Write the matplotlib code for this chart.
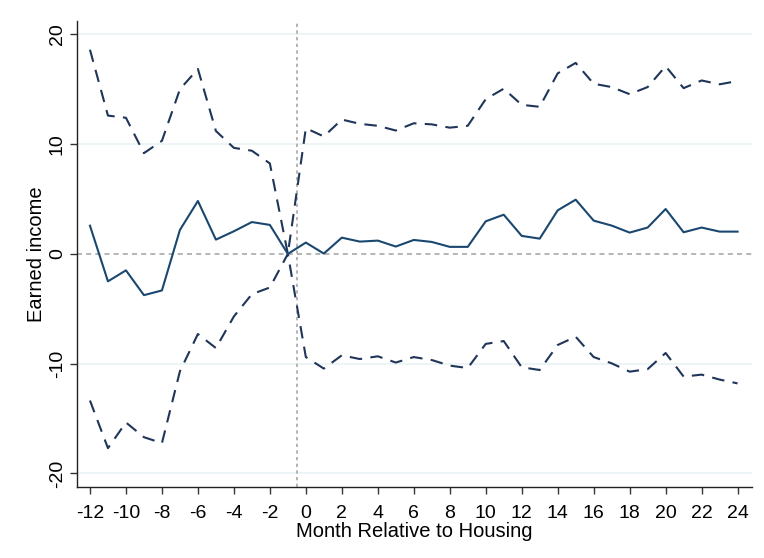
import matplotlib.pyplot as plt
import numpy as np

plt.rcParams['font.family'] = ['Liberation Sans', 'DejaVu Sans']
plt.rcParams['axes.unicode_minus'] = False

# months relative to housing
months = list(range(-12, 25))

# point estimate
est = [2.57, -2.5, -1.5, -3.76, -3.33, 2.18, 4.82, 1.3, 2.06, 2.9, 2.64, 0.0,
       1.03, 0.03, 1.48, 1.12, 1.21, 0.67, 1.27, 1.09, 0.64, 0.64, 2.97, 3.57,
       1.64, 1.39, 3.97, 4.94, 3.03, 2.58, 1.94, 2.4, 4.09, 1.97, 2.4, 2.03, 2.03]

# upper confidence bound
upper = [18.6, 12.6, 12.4, 9.18, 10.3, 15.0, 16.85, 11.2, 9.66, 9.4, 8.24, 0.0,
         11.45, 10.7, 12.24, 11.85, 11.67, 11.24, 11.9, 11.8, 11.5, 11.67, 14.1, 15.05,
         13.58, 13.4, 16.45, 17.4, 15.5, 15.2, 14.55, 15.2, 17.1, 15.1, 15.8, 15.45, 15.75]

# lower confidence bound
lower = [-13.36, -17.7, -15.36, -16.7, -17.24, -10.7, -7.3, -8.58, -5.7, -3.67, -3.06, 0.0,
         -9.4, -10.45, -9.24, -9.58, -9.33, -9.9, -9.4, -9.67, -10.18, -10.4, -8.2, -7.94,
         -10.33, -10.58, -8.3, -7.55, -9.4, -9.97, -10.73, -10.5, -9.03, -11.18, -11.0, -11.45, -11.8]

fig = plt.figure(figsize=(7.64, 5.58), dpi=100)
ax = fig.add_axes([0.1008, 0.128, 0.883, 0.834])

for yv in [-20, -10, 10, 20]:
    ax.axhline(yv, color='#eaf2f3', lw=1.2, zorder=0)
ax.axhline(0, color='#a8a8a8', lw=1.2, ls=(0, (3, 2.5)), zorder=1)
ax.axvline(-0.5, color='#a8a8a8', lw=1.2, ls=(0, (2, 2)), zorder=1)

ax.plot(months, upper, color='#1f3559', lw=1.5, ls=(0, (6, 4)), zorder=2)
ax.plot(months, lower, color='#1f3559', lw=1.5, ls=(0, (6, 4)), zorder=2)
ax.plot(months, est, color='#1a476f', lw=1.5, zorder=3)

ax.set_xlim(-12.72, 24.78)
ax.set_ylim(-21.2, 21.2)
ax.set_xticks(range(-12, 25, 2))
ax.set_yticks([-20, -10, 0, 10, 20])
ax.tick_params(axis='both', labelsize=14, length=5, width=1, color='#333333')
ax.tick_params(axis='x', pad=8)
ax.tick_params(axis='y', pad=3)
for lab in ax.get_yticklabels():
    lab.set_rotation(90)
    lab.set_va('center')

for side in ['top', 'right']:
    ax.spines[side].set_visible(False)
for side in ['left', 'bottom']:
    ax.spines[side].set_color('#222222')
    ax.spines[side].set_linewidth(1.0)

ax.set_xlabel('Month Relative to Housing', fontsize=14.5, labelpad=0)
ax.set_ylabel('Earned income', fontsize=14.5, labelpad=2)

fig.savefig('out.png', dpi=100, facecolor='white')
